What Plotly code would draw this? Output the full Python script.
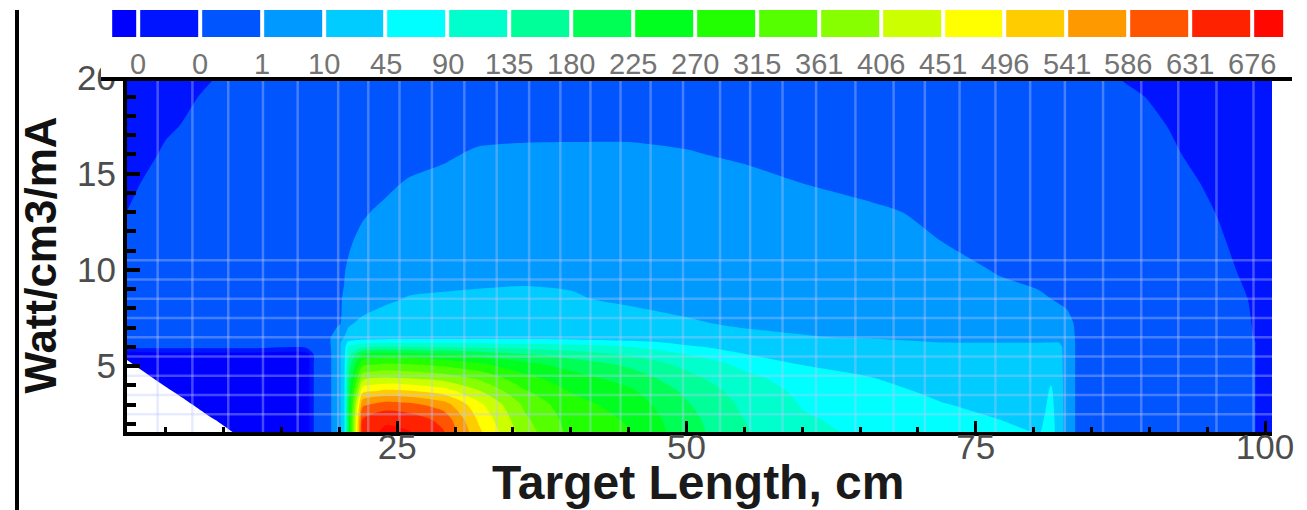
import numpy as np
import plotly.graph_objects as go

# ---------------- data ----------------
target_length_cm = [1.5, 5, 7, 9, 13, 17.2, 17.9, 19.0, 19.8, 20.4, 20.8, 22, 24, 26, 29, 32, 36, 40, 45,
                    50, 55, 60, 66, 72, 77, 80.5, 81.5, 82.2, 82.9, 84, 88, 92, 96, 98.5, 99.5, 100.6]
radius_cm = [1.5, 2.2, 3.0, 3.7, 4.4, 5.1, 5.6, 6.0, 6.25, 6.5, 7.2, 8.5, 10, 11.5, 13, 14.5, 16, 17.5, 19, 20]

# power density, Watt/cm3/mA ; one row per radius value (bottom to top)
power_rows = [
    [0, 0.00015, 0.0018, 0.0034, 0.0067, 0.0075, 0.37, 0.73, 5.5, 27.5, 225, 649, 690, 681, 636, 509, 383, 304, 273, 201, 140, 99.2, 83.4, 67.6, 54.1, 45.5, 63.1, 29.3, 5.5, 0.73, 0.595, 0.505, 0.415, 0.28, 0.091, 0.073],
    [0, 0.00155, 0.00315, 0.0048, 0.0075, 0.0075, 0.37, 0.73, 5.5, 27.5, 225, 636, 667, 658, 618, 491, 370, 298, 266, 196, 135, 94.6, 78.9, 58.6, 45.5, 38.1, 60.8, 29.3, 5.5, 0.73, 0.595, 0.505, 0.415, 0.28, 0.091, 0.073],
    [0.00025, 0.00315, 0.00475, 0.0064, 0.0075, 0.0075, 0.37, 0.73, 5.5, 27.5, 216, 577, 608, 599, 563, 464, 352, 286, 252, 185, 126, 87.9, 69.9, 47.3, 36.3, 31.0, 56.3, 27.5, 5.5, 0.73, 0.595, 0.505, 0.415, 0.28, 0.091, 0.073],
    [0.00165, 0.00455, 0.00615, 0.0075, 0.0075, 0.0075, 0.37, 0.73, 5.5, 27.5, 198, 482, 505, 500, 473, 410, 320, 268, 234, 171, 115, 81.1, 58.6, 38.1, 29.3, 27.5, 50.5, 27.5, 5.5, 0.73, 0.595, 0.505, 0.415, 0.28, 0.091, 0.073],
    [0.00305, 0.00595, 0.0075, 0.0075, 0.0075, 0.0075, 0.37, 0.73, 5.5, 27.5, 180, 388, 407, 401, 383, 352, 284, 243, 207, 149, 101, 69.9, 45.5, 31.0, 25.8, 24.0, 39.8, 25.8, 5.5, 0.73, 0.595, 0.505, 0.415, 0.28, 0.091, 0.073],
    [0.00445, 0.00735, 0.0075, 0.0075, 0.0075, 0.0075, 0.37, 0.73, 5.5, 27.5, 153, 302, 320, 316, 302, 279, 239, 207, 171, 122, 78.9, 43.3, 34.5, 25.8, 22.3, 20.5, 31.0, 24.0, 5.5, 0.73, 0.595, 0.505, 0.415, 0.28, 0.091, 0.073],
    [0.00545, 0.0075, 0.0075, 0.0075, 0.0075, 0.0075, 0.37, 0.73, 5.5, 27.5, 126, 234, 252, 248, 234, 212, 185, 162, 131, 90.5, 46, 36.3, 29.3, 22.3, 20.5, 18.8, 24.0, 22.3, 5.5, 0.73, 0.595, 0.505, 0.415, 0.28, 0.091, 0.073],
    [0.37, 0.37, 0.37, 0.37, 0.37, 0.37, 0.55, 0.775, 5.5, 27.5, 90.5, 126, 135.5, 135.5, 131, 126, 117, 108, 90.5, 49.6, 36.3, 31.0, 25.8, 20.5, 17.0, 17.0, 20.5, 20.5, 5.5, 0.73, 0.595, 0.505, 0.415, 0.28, 0.091, 0.073],
    [0.37, 0.415, 0.43, 0.46, 0.505, 0.55, 0.595, 0.82, 5.5, 24.0, 54.1, 72.1, 78.9, 78.9, 77.5, 76.6, 74.4, 69.9, 54.1, 38.1, 29.3, 24.0, 17.0, 9.7, 9.7, 9.7, 9.7, 9.55, 5.5, 0.73, 0.595, 0.505, 0.415, 0.28, 0.091, 0.073],
    [0.37, 0.46, 0.505, 0.55, 0.595, 0.62, 0.64, 0.865, 3.7, 10.2, 20.5, 24.0, 27.5, 29.3, 31.0, 31.0, 31.0, 29.3, 25.8, 20.5, 15.3, 11.8, 9.3, 8.2, 7.3, 6.6, 6.2, 5.5, 3.7, 0.82, 0.64, 0.505, 0.37, 0.235, 0.0865, 0.073],
    [0.325, 0.55, 0.64, 0.73, 0.82, 0.865, 0.865, 0.89, 0.91, 1.9, 9.1, 17.0, 22.3, 25.8, 27.5, 27.5, 25.8, 22.3, 17.0, 12.5, 9.3, 8.2, 7.3, 6.4, 5.05, 4.15, 3.7, 2.8, 1.9, 0.91, 0.82, 0.595, 0.37, 0.19, 0.082, 0.0685],
    [0.325, 0.55, 0.64, 0.73, 0.84, 0.89, 0.91, 0.94, 0.955, 1.18, 2.8, 5.95, 8.9, 11.4, 12.45, 12.8, 12.8, 11.4, 9.3, 8.2, 7.3, 6.85, 5.95, 4.6, 2.8, 1.45, 1.0, 0.955, 0.93, 0.89, 0.775, 0.55, 0.325, 0.1, 0.082, 0.0685],
    [0.28, 0.505, 0.6, 0.685, 0.82, 0.88, 0.91, 0.94, 0.955, 0.98, 1.45, 3.7, 5.5, 6.85, 8.0, 8.65, 9.1, 9.1, 8.9, 8.65, 8.2, 7.3, 5.5, 3.25, 0.955, 0.89, 0.865, 0.85, 0.84, 0.82, 0.685, 0.505, 0.235, 0.091, 0.0775, 0.064],
    [0.19, 0.46, 0.55, 0.64, 0.775, 0.84, 0.865, 0.89, 0.91, 0.93, 0.955, 1.9, 3.7, 5.05, 6.4, 7.3, 8.2, 8.65, 8.65, 8.2, 7.3, 5.95, 3.7, 1.0, 0.865, 0.82, 0.80, 0.79, 0.775, 0.73, 0.595, 0.415, 0.145, 0.0865, 0.073, 0.0595],
    [0.099, 0.37, 0.46, 0.55, 0.685, 0.775, 0.80, 0.84, 0.865, 0.89, 0.91, 0.955, 1.9, 3.25, 4.6, 5.5, 6.4, 6.85, 6.85, 6.4, 5.5, 3.7, 1.72, 0.91, 0.82, 0.775, 0.75, 0.73, 0.73, 0.685, 0.505, 0.325, 0.098, 0.082, 0.064, 0.055],
    [0.0865, 0.325, 0.415, 0.505, 0.64, 0.685, 0.73, 0.75, 0.775, 0.79, 0.80, 0.85, 0.91, 1.45, 2.8, 4.15, 4.6, 5.05, 5.05, 4.15, 2.8, 1.0, 0.865, 0.775, 0.685, 0.64, 0.64, 0.64, 0.62, 0.55, 0.415, 0.235, 0.091, 0.073, 0.0595, 0.0505],
    [0.064, 0.19, 0.30, 0.415, 0.55, 0.64, 0.64, 0.66, 0.68, 0.69, 0.70, 0.73, 0.77, 0.82, 0.91, 1.9, 2.35, 2.35, 2.35, 1.45, 0.91, 0.82, 0.73, 0.64, 0.57, 0.53, 0.52, 0.51, 0.505, 0.415, 0.28, 0.145, 0.082, 0.064, 0.055, 0.046],
    [0.0505, 0.091, 0.16, 0.325, 0.46, 0.55, 0.55, 0.57, 0.58, 0.59, 0.60, 0.61, 0.64, 0.67, 0.71, 0.76, 0.80, 0.82, 0.82, 0.79, 0.75, 0.685, 0.62, 0.55, 0.505, 0.48, 0.48, 0.47, 0.46, 0.44, 0.28, 0.0973, 0.073, 0.0595, 0.0505, 0.046],
    [0.0415, 0.0775, 0.094, 0.19, 0.37, 0.42, 0.43, 0.44, 0.45, 0.46, 0.46, 0.48, 0.50, 0.51, 0.55, 0.58, 0.61, 0.64, 0.64, 0.62, 0.60, 0.55, 0.51, 0.46, 0.42, 0.41, 0.40, 0.40, 0.39, 0.37, 0.19, 0.0865, 0.064, 0.055, 0.046, 0.0415],
    [0.0325, 0.064, 0.081, 0.098, 0.37, 0.39, 0.39, 0.40, 0.40, 0.41, 0.41, 0.42, 0.42, 0.44, 0.46, 0.49, 0.51, 0.53, 0.55, 0.53, 0.51, 0.48, 0.44, 0.41, 0.37, 0.35, 0.35, 0.34, 0.34, 0.325, 0.0955, 0.073, 0.055, 0.046, 0.0415, 0.037],
]

# contour levels shown on the colour bar
level_values = [0.01, 0.1, 1, 10, 45.07, 90.14, 135.21, 180.28, 225.35, 270.42, 315.49, 360.56,
                405.63, 450.7, 495.77, 540.84, 585.91, 630.98, 676.05]
level_labels = ["0", "0", "1", "10", "45", "90", "135", "180", "225", "270", "315", "361",
                "406", "451", "496", "541", "586", "631", "676"]
band_colors = ["#0000ff", "#0014ff", "#0055ff", "#0099ff", "#00ccff", "#00ffff", "#00ffcc",
               "#00ff99", "#00ff55", "#00ff1e", "#22ff00", "#55ff00", "#88ff00", "#ccff00",
               "#ffff00", "#ffcc00", "#ff9900", "#ff5500", "#ff2200", "#ff0800"]
no_data_color = "#ffffff"
no_data_threshold = 0.005

# simulation mesh lines visible in the original picture
mesh_x = [4.3, 7.3, 10.4, 13.4, 16.4, 19.9, 22.5, 25.2, 28.0, 30.8, 33.6, 36.4, 39.1, 41.7, 44.3,
          46.9, 49.7, 52.9, 55.5, 58.3, 61.2, 64.6, 67.9, 70.6, 73.6, 76.7, 79.7, 82.7, 86.0, 89.3,
          92.5, 95.8, 99.0]
mesh_y = [2.5, 3.5, 4.5, 5.5, 6.5, 7.5, 8.5, 9.5, 10.5]

for r in power_rows:
    assert len(r) == len(target_length_cm)
assert len(power_rows) == len(radius_cm)

# ---------------- map values onto the (non uniform) level index ----------------
n_lev = len(level_values)
anchor_v = [0.0, no_data_threshold] + level_values + [level_values[-1] + (level_values[-1] - level_values[-2])]
anchor_i = [-2.0, -1.0] + list(range(n_lev)) + [n_lev]
z_idx = np.interp(np.array(power_rows, dtype=float), anchor_v, anchor_i)

all_colors = [no_data_color] + band_colors
ncol = len(all_colors)
contour_cs = [[k / (ncol - 1), c] for k, c in enumerate(all_colors)]

FONT = "Liberation Sans, Arial, Helvetica, sans-serif"

# ---------------- geometry ----------------
W, H = 1307, 510
ML, MR, MT, MB = 101, 15, 10, 78
PW, PH = W - ML - MR, H - MT - MB


def px_x(p):
    return (p - ML) / PW


def px_y(p):
    return (H - MB - p) / PH


fig = go.Figure()

fig.add_trace(go.Contour(
    x=target_length_cm, y=radius_cm, z=z_idx,
    autocontour=False,
    contours=dict(start=-1, end=n_lev - 1, size=1, coloring="fill", showlines=False),
    line=dict(width=0, smoothing=0.7),
    colorscale=contour_cs, showscale=False, hoverinfo="skip",
))

# mesh overlay
mx, my = [], []
x_lo, x_hi = target_length_cm[0], target_length_cm[-1]
y_lo, y_hi = radius_cm[0], radius_cm[-1]
for v in mesh_x:
    mx += [v, v, None]
    my += [y_lo, y_hi, None]
for v in mesh_y:
    mx += [x_lo, x_hi, None]
    my += [v, v, None]
fig.add_trace(go.Scatter(x=mx, y=my, mode="lines", hoverinfo="skip",
                         line=dict(color="rgba(190,200,255,0.36)", width=2.5)))

# colour bar drawn as a strip of cells
cb_edges = [-0.45] + list(range(n_lev)) + [n_lev - 1 + 0.53]
fig.add_trace(go.Heatmap(
    x=cb_edges, y=[10, 37], z=[list(range(len(band_colors)))],
    colorscale=[[k / (len(band_colors) - 1), c] for k, c in enumerate(band_colors)],
    zmin=0, zmax=len(band_colors) - 1, showscale=False, xgap=4,
    xaxis="x2", yaxis="y2", hoverinfo="skip",
))

annotations = []
for k, lab in enumerate(level_labels):
    annotations.append(dict(x=k, y=64, xref="x2", yref="y2", text=lab, showarrow=False,
                            xanchor="center", yanchor="middle",
                            font=dict(family=FONT, size=29, color="#737373")))
annotations.append(dict(x=px_x(697.5), y=px_y(482), xref="paper", yref="paper",
                        text="Target Length, cm", showarrow=False, xanchor="center", yanchor="middle",
                        font=dict(family=FONT, size=48, color="#1a1a1a", weight="bold")))
annotations.append(dict(x=px_x(40), y=px_y(255.5), xref="paper", yref="paper",
                        text="Watt/cm3/mA", showarrow=False, textangle=-90,
                        xanchor="center", yanchor="middle",
                        font=dict(family=FONT, size=44, color="#111111", weight="bold")))

shapes = [
    dict(type="rect", xref="paper", yref="y2", x0=0, x1=1, y0=10, y1=80,
         fillcolor="black", line=dict(width=0), layer="below"),
    dict(type="rect", xref="paper", yref="y2", x0=px_x(105), x1=px_x(1288), y0=40, y1=77,
         fillcolor="white", line=dict(width=0), layer="below"),
    dict(type="line", xref="paper", yref="paper", x0=0, x1=1, y0=px_y(79), y1=px_y(79),
         line=dict(color="black", width=4), layer="above"),
    dict(type="line", xref="paper", yref="paper", x0=px_x(17), x1=px_x(17), y0=px_y(10), y1=px_y(510),
         line=dict(color="black", width=4), layer="above"),
]

axis_common = dict(showgrid=False, zeroline=False, showline=True, linecolor="black", linewidth=4,
                   ticks="inside", tickcolor="black", layer="above traces", automargin=False,
                   tickfont=dict(family=FONT, size=35, color="#4d4d4d"))

fig.update_layout(
    template="none",
    width=W, height=H,
    margin=dict(l=ML, r=MR, t=MT, b=MB, pad=0, autoexpand=False),
    paper_bgcolor="white", plot_bgcolor="white",
    showlegend=False,
    xaxis=dict(domain=[px_x(127), px_x(1272)], range=[1.65, 100.6], tickmode="linear", tick0=0, dtick=25,
               ticklen=11, tickwidth=3, ticklabelstandoff=-19,
               minor=dict(dtick=5, ticklen=5, tickwidth=3, ticks="inside", tickcolor="black", showgrid=False),
               **axis_common),
    yaxis=dict(domain=[0, px_y(77.5)], range=[1.575, 20], tickmode="linear", tick0=0, dtick=5,
               ticklen=13, tickwidth=3.5,
               minor=dict(dtick=1, ticklen=9, tickwidth=3.5, ticks="inside", tickcolor="black", showgrid=False),
               **axis_common),
    xaxis2=dict(domain=[0, 1], anchor="y2", range=[(ML - 138) / 61.9, (W - MR - 138) / 61.9],
                visible=False, automargin=False),
    yaxis2=dict(domain=[px_y(80), 1], anchor="x2", range=[80, 10], visible=False, automargin=False),
    annotations=annotations,
    shapes=shapes,
)

fig.write_html("out.html")
